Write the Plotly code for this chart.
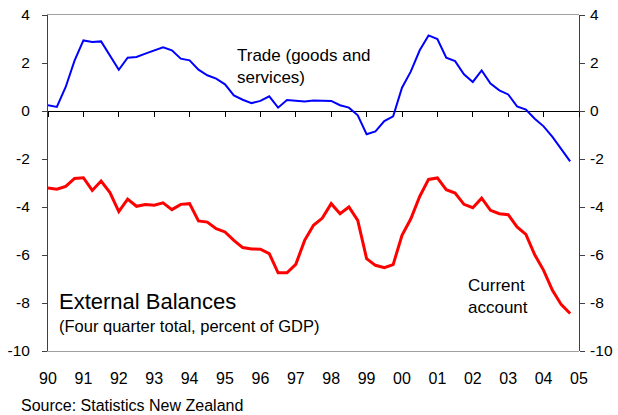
import plotly.graph_objects as go

quarters = [1990 + 0.25 * i for i in range(60)]

trade = [0.24, 0.17, 1.00, 2.10, 2.94, 2.88, 2.90, 2.32, 1.72, 2.22, 2.25, 2.39,
         2.53, 2.65, 2.53, 2.18, 2.11, 1.72, 1.49, 1.35, 1.11, 0.65, 0.47, 0.33,
         0.42, 0.61, 0.14, 0.46, 0.43, 0.40, 0.44, 0.42, 0.42, 0.24, 0.14, -0.18,
         -0.97, -0.85, -0.42, -0.22, 0.97, 1.65, 2.53, 3.15, 3.00, 2.22, 2.08, 1.53,
         1.21, 1.69, 1.14, 0.86, 0.69, 0.19, 0.06, -0.32, -0.64, -1.08, -1.60, -2.10]

current_account = [-3.21, -3.26, -3.14, -2.81, -2.78, -3.31, -2.92, -3.40, -4.19, -3.67,
                   -3.97, -3.90, -3.93, -3.83, -4.11, -3.89, -3.86, -4.58, -4.63, -4.90,
                   -5.04, -5.39, -5.69, -5.75, -5.76, -5.94, -6.74, -6.74, -6.39, -5.39,
                   -4.76, -4.46, -3.86, -4.28, -4.00, -4.56, -6.15, -6.43, -6.53, -6.40,
                   -5.18, -4.49, -3.56, -2.85, -2.79, -3.28, -3.42, -3.89, -4.03, -3.63,
                   -4.14, -4.28, -4.32, -4.83, -5.14, -5.99, -6.64, -7.47, -8.07, -8.44]

year_ticks = list(range(1990, 2006))
year_labels = ["90", "91", "92", "93", "94", "95", "96", "97", "98", "99",
               "00", "01", "02", "03", "04", "05"]
y_ticks = [4, 2, 0, -2, -4, -6, -8, -10]
y_labels = ["4", "2", "0", "-2", "-4", "-6", "-8", "-10"]

FONT = "Liberation Sans, Arial, sans-serif"

# body margin is removed by post_script, so the figure fills the window
W, H = 618, 415
L = 48
T = 15
Rr = 578.7
Bb = 351
pw = Rr - L
ph = Bb - T


def px(xpix):
    return (xpix - L) / pw


def py(ypix):
    return 1 - (ypix - T) / ph


fig = go.Figure()
fig.add_trace(go.Scatter(x=quarters, y=trade, mode="lines", name="Trade",
                         line=dict(color="#0000FF", width=2), xaxis="x", yaxis="y"))
fig.add_trace(go.Scatter(x=quarters, y=current_account, mode="lines", name="Current account",
                         line=dict(color="#FF0000", width=3), xaxis="x2", yaxis="y2"))

fig.update_layout(
    width=W, height=H,
    margin=dict(l=L, r=W - Rr, t=T, b=H - Bb, autoexpand=False),
    paper_bgcolor="white", plot_bgcolor="white",
    showlegend=False,
    font=dict(family=FONT, size=16, color="black"),
    xaxis=dict(range=[1990, 2005], tickvals=year_ticks, ticktext=year_labels,
               showgrid=False, zeroline=False, showline=True, linecolor="#A0A0A0",
               linewidth=1, mirror=True, ticks="", ticklabelstandoff=13,
               tickfont=dict(size=16), automargin=False, ticklabeloverflow="allow"),
    xaxis2=dict(range=[1990, 2005], overlaying="x", anchor="free", position=10 / 14,
                tickvals=year_ticks, showticklabels=False, showgrid=False,
                zeroline=False, showline=False, ticks="outside", ticklen=5,
                tickcolor="black", tickwidth=1, automargin=False),
    yaxis=dict(range=[-10, 4], tickvals=y_ticks, ticktext=y_labels, showgrid=False,
               zeroline=True, zerolinecolor="black", zerolinewidth=1,
               showline=True, linecolor="#404040", linewidth=1,
               ticks="outside", ticklen=5, tickcolor="#404040",
               ticklabelstandoff=9, tickfont=dict(size=15.5), automargin=False,
               ticklabeloverflow="allow"),
    yaxis2=dict(range=[-10, 4], tickvals=y_ticks, ticktext=y_labels, overlaying="y",
                side="right", anchor="free", position=1, showgrid=False, zeroline=False,
                showline=True, linecolor="#404040", linewidth=1,
                ticks="outside", ticklen=5, tickcolor="#404040",
                ticklabelstandoff=2, tickfont=dict(size=15.5), automargin=False,
                ticklabeloverflow="allow"),
)

ann = [
    dict(text="Trade (goods and<br>services)", x=px(235), y=py(66), size=17),
    dict(text="Current<br>account", x=px(466), y=py(296), size=17),
    dict(text="External Balances", x=px(57), y=py(301), size=22),
    dict(text="(Four quarter total, percent of GDP)", x=px(57), y=py(326), size=16.5),
    dict(text="Source: Statistics New Zealand", x=px(19), y=py(405), size=16),
]
for a in ann:
    fig.add_annotation(text=a["text"], x=a["x"], y=a["y"], xref="paper", yref="paper",
                       xanchor="left", yanchor="middle", align="left", showarrow=False,
                       font=dict(family=FONT, size=a["size"], color="black"))

fig.write_html("out.html", config={"displayModeBar": False},
               post_script="document.body.style.margin='0';document.body.style.overflow='hidden';")
